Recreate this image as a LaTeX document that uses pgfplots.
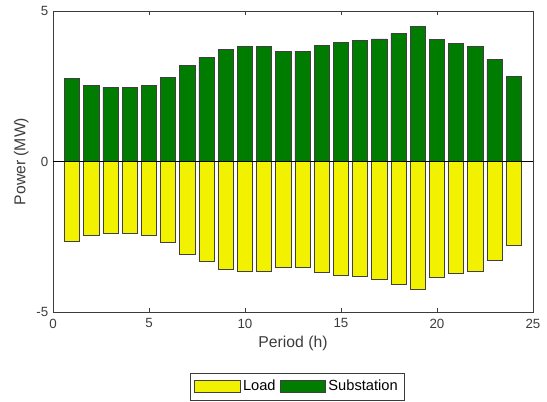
\documentclass[border=0pt]{standalone}
\usepackage{fontspec}
\setmainfont{Liberation Sans}
\usepackage{pgfplots}
\pgfplotsset{compat=1.18}
\definecolor{myyellow}{RGB}{242,242,0}
\definecolor{mygreen}{RGB}{0,125,0}
\definecolor{axgray}{RGB}{60,60,60}
\begin{document}
\begin{tikzpicture}
\path[use as bounding box] (-39.75pt,-67.5pt) rectangle (370.5pt,234pt);
\begin{axis}[
  at={(0pt,0pt)}, anchor=south west,
  scale only axis,
  width=360pt, height=225.75pt,
  xmin=0, xmax=25, ymin=-5, ymax=5,
  xtick={0,5,...,25}, ytick={-5,0,5},
  tick align=inside,
  major tick length=3pt,
  axis line style={axgray, line width=0.5pt},
  tick style={axgray, line width=0.5pt},
  tick label style={font=\fontsize{10}{12}\selectfont, text=axgray},
  xticklabel style={yshift=-1.5pt},
  /pgf/number format/assume math mode=true,
  xlabel={Period (h)}, ylabel={Power (MW)},
  label style={font=\fontsize{11.8}{14}\selectfont, text=axgray},
  xlabel style={yshift=1pt},
  ylabel style={yshift=-1pt},
  legend columns=2,
  legend style={at={(0.509,-0.2475)}, anchor=center, draw=axgray,
    font=\fontsize{11}{13}\selectfont, inner xsep=3pt, inner ysep=3.5pt,
    /tikz/every even column/.append style={column sep=1pt}},
  legend image code/.code={\draw[#1, line width=0.6pt] (0pt,-4.5pt) rectangle (34pt,4.5pt);},
]
\addplot[ybar, bar width=0.8, bar shift=0pt, fill=myyellow, draw=black!75, line width=0.6pt] coordinates {
(1,-2.67) (2,-2.45) (3,-2.40) (4,-2.40) (5,-2.45) (6,-2.70) (7,-3.10) (8,-3.32)
(9,-3.58) (10,-3.65) (11,-3.65) (12,-3.53) (13,-3.53) (14,-3.69) (15,-3.80) (16,-3.83)
(17,-3.91) (18,-4.08) (19,-4.24) (20,-3.86) (21,-3.72) (22,-3.65) (23,-3.28) (24,-2.78)};
\addlegendentry{Load}
\addplot[ybar, bar width=0.8, bar shift=0pt, fill=mygreen, draw=black!75, line width=0.6pt] coordinates {
(1,2.76) (2,2.54) (3,2.47) (4,2.47) (5,2.54) (6,2.80) (7,3.20) (8,3.46)
(9,3.71) (10,3.82) (11,3.82) (12,3.67) (13,3.67) (14,3.86) (15,3.96) (16,4.01)
(17,4.07) (18,4.26) (19,4.48) (20,4.04) (21,3.91) (22,3.82) (23,3.38) (24,2.84)};
\addlegendentry{Substation}
\addplot[black, line width=0.6pt, forget plot] coordinates {(0,0) (25,0)};
\end{axis}
\end{tikzpicture}
\end{document}
